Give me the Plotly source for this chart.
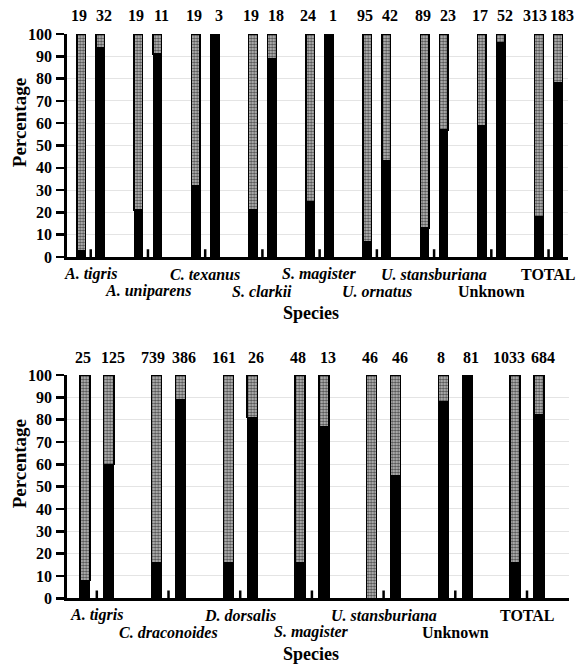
import plotly.graph_objects as go

# ---------------- data ----------------
top_species = ["A. tigris", "A. uniparens", "C. texanus", "S. clarkii", "S. magister",
               "U. ornatus", "U. stansburiana", "Unknown", "TOTAL"]
top_n_left = [19, 19, 19, 19, 24, 95, 89, 17, 313]
top_n_right = [32, 11, 3, 18, 1, 42, 23, 52, 183]
top_pct_left = [3, 21, 32, 21, 25, 7, 13, 59, 18]
top_pct_right = [94, 91, 100, 89, 100, 43, 57, 96, 78]

bot_species = ["A. tigris", "C. draconoides", "D. dorsalis", "S. magister",
               "U. stansburiana", "Unknown", "TOTAL"]
bot_n_left = [25, 739, 161, 48, 46, 8, 1033]
bot_n_right = [125, 386, 26, 13, 46, 81, 684]
bot_pct_left = [8, 16, 16, 16, 0, 88, 16]
bot_pct_right = [60, 89, 81, 77, 55, 100, 82]

y_ticks = [0, 10, 20, 30, 40, 50, 60, 70, 80, 90, 100]
plain_labels = {"Unknown", "TOTAL"}

FONT = "Liberation Serif"
W, H = 576, 664


def px(v):
    return v / W


def py(v):
    return 1 - v / H


fig = go.Figure()


def add_panel(species, n_l, n_r, p_l, p_r, xr, yr, offset, width):
    k = len(species)
    xs = [i - offset for i in range(k)] + [i + offset for i in range(k)]
    black = list(p_l) + list(p_r)
    grey = [100 - v for v in black]
    fig.add_trace(go.Bar(x=xs, y=black, width=width, xaxis=xr, yaxis=yr,
                         marker=dict(color="black", line=dict(color="black", width=1.2)),
                         showlegend=False, hoverinfo="skip"))
    fig.add_trace(go.Bar(x=xs, y=grey, width=width, xaxis=xr, yaxis=yr,
                         marker=dict(color="#b4b4b4",
                                     line=dict(color="black", width=1.4),
                                     pattern=dict(shape=".", fgcolor="#505050",
                                                  bgcolor="#c4c4c4", size=3,
                                                  solidity=0.5, fillmode="replace")),
                         showlegend=False, hoverinfo="skip"))
    # n labels
    for i in range(k):
        nl, nr = n_l[i], n_r[i]
        sl = -2 - 2 * max(0, len(str(nl)) - 2)
        sr = 4
        fig.add_annotation(x=i - offset, y=100, xref=xr, yref=yr, text=f"<b>{nl}</b>",
                           showarrow=False, yanchor="middle", yshift=18, xshift=sl,
                           font=dict(family=FONT, size=16, color="black"))
        fig.add_annotation(x=i + offset, y=100, xref=xr, yref=yr, text=f"<b>{nr}</b>",
                           showarrow=False, yanchor="middle", yshift=18, xshift=sr,
                           font=dict(family=FONT, size=16, color="black"))
    # species labels and ticks
    for i, s in enumerate(species):
        row2 = i % 2 == 1
        txt = f"<b>{s}</b>" if s in plain_labels else f"<b><i>{s}</i></b>"
        fig.add_annotation(x=i, y=0, xref=xr, yref=yr, text=txt, showarrow=False,
                           yanchor="middle", yshift=-34 if row2 else -17,
                           font=dict(family=FONT, size=16, color="black"))
        fig.add_shape(type="line", xref=xr, yref=yr, x0=i, x1=i,
                      y0=3.5, y1=-10 if row2 else -2.9,
                      line=dict(color="black", width=2.5))
    fig.add_annotation(x=px(311), y=0, xref="paper", yref=yr, text="<b>Species</b>",
                       showarrow=False, yanchor="middle", yshift=-56,
                       font=dict(family=FONT, size=18, color="black"))
    fig.add_annotation(x=px(19), y=60, xref="paper", yref=yr, text="<b>Percentage</b>",
                       showarrow=False, textangle=-90, xanchor="center", yanchor="middle",
                       font=dict(family=FONT, size=19, color="black"))


add_panel(top_species, top_n_left, top_n_right, top_pct_left, top_pct_right,
          "x", "y", 0.166, 0.15)
add_panel(bot_species, bot_n_left, bot_n_right, bot_pct_left, bot_pct_right,
          "x2", "y2", 0.167, 0.14)

ytick_font = dict(family=FONT, size=16, color="black", weight="bold")
yax = dict(range=[0, 100], tickvals=y_ticks, ticks="outside", ticklen=8, tickwidth=2.5,
           tickcolor="black", showline=True, linecolor="black", linewidth=2.5,
           showgrid=True, gridcolor="#e4e4e4", gridwidth=1, zeroline=False,
           tickfont=ytick_font, ticklabelstandoff=1, fixedrange=True, automargin=False)
yin = dict(range=[0, 100], tickvals=y_ticks, ticks="inside", ticklen=5, tickwidth=2.5,
           tickcolor="black", showline=False, showgrid=False, zeroline=False,
           showticklabels=False, automargin=False)
xax = dict(showline=True, linecolor="black", linewidth=2.5, showgrid=False,
           zeroline=False, showticklabels=False, ticks="", automargin=False)

fig.update_layout(
    width=W, height=H, autosize=False, margin=dict(l=0, r=0, t=0, b=0, pad=0),
    paper_bgcolor="white", plot_bgcolor="white", barmode="stack", bargap=0,
    hovermode=False,
    xaxis=dict(xax, domain=[px(66.7), px(568)], range=[-0.42, 8.34], anchor="y"),
    yaxis=dict(yax, domain=[py(257), py(34)], anchor="x"),
    xaxis2=dict(xax, domain=[px(66.7), px(569.3)], range=[-0.42, 6.59], anchor="y2"),
    yaxis2=dict(yax, domain=[py(598.3), py(375)], anchor="x2"),
    yaxis3=dict(yin, overlaying="y", anchor="x", side="left"),
    yaxis4=dict(yin, overlaying="y2", anchor="x2", side="left"),
)

fig.write_html(
    "out.html",
    config={"displayModeBar": False, "staticPlot": True},
    post_script="document.body.style.margin='0px';document.body.style.overflow='hidden';",
)
